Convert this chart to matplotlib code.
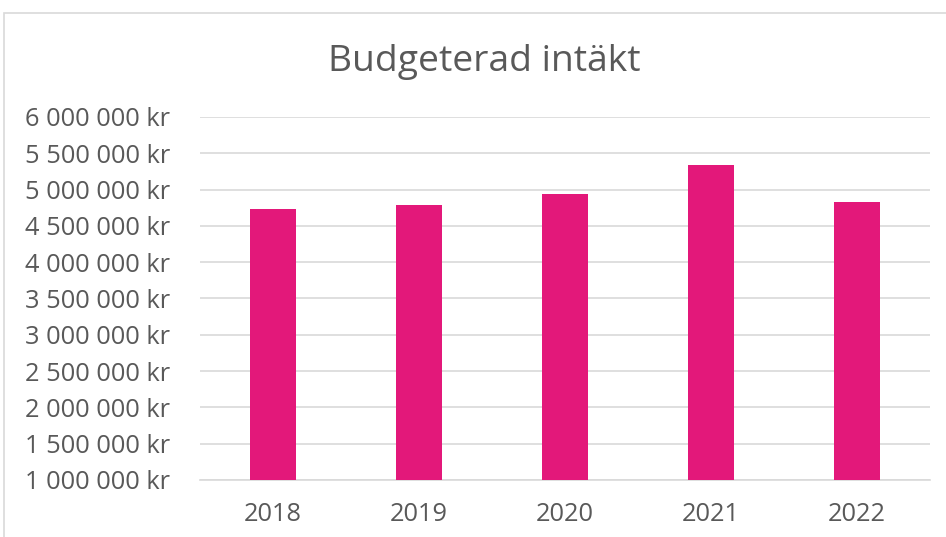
import matplotlib.pyplot as plt
from matplotlib.patches import Rectangle
from matplotlib.ticker import FuncFormatter

years = ["2018", "2019", "2020", "2021", "2022"]
budget = [4738000, 4794000, 4940000, 5336000, 4836000]

plt.rcParams['font.family'] = ['Open Sans', 'DejaVu Sans']

fig = plt.figure(figsize=(9.46, 5.37), dpi=100)
ax = fig.add_axes([200 / 946, 1 - 480 / 537, 730 / 946, 363 / 537])

ax.bar(years, budget, width=0.31, color='#E3187A', zorder=3)

ax.set_ylim(1000000, 6000000)
ax.set_yticks(range(1000000, 6000001, 500000))
ax.yaxis.set_major_formatter(FuncFormatter(lambda v, p: f"{int(v):,} kr".replace(",", " ")))
ax.set_xlim(-0.5, 4.5)

ax.grid(axis='y', color='#d9d9d9', linewidth=1.2, zorder=0)
for s in ['top', 'right', 'left']:
    ax.spines[s].set_visible(False)
ax.spines['bottom'].set_color('#d9d9d9')
ax.spines['bottom'].set_linewidth(1.2)
ax.tick_params(length=0, labelsize=18.3, labelcolor='#595959')
ax.tick_params(axis='y', pad=21.5)
ax.tick_params(axis='x', pad=16)

fig.text(484 / 946, 1 - 62 / 537, "Budgeterad intäkt", ha='center', va='center',
         fontsize=26.8, color='#595959')

# chart border
fig.patches.append(Rectangle((4 / 946, -0.1), 1.2, 1 - 13 / 537 + 0.1, transform=fig.transFigure,
                             fill=False, edgecolor='#d9d9d9', linewidth=1.2))

fig.savefig("out.png", dpi=100)
